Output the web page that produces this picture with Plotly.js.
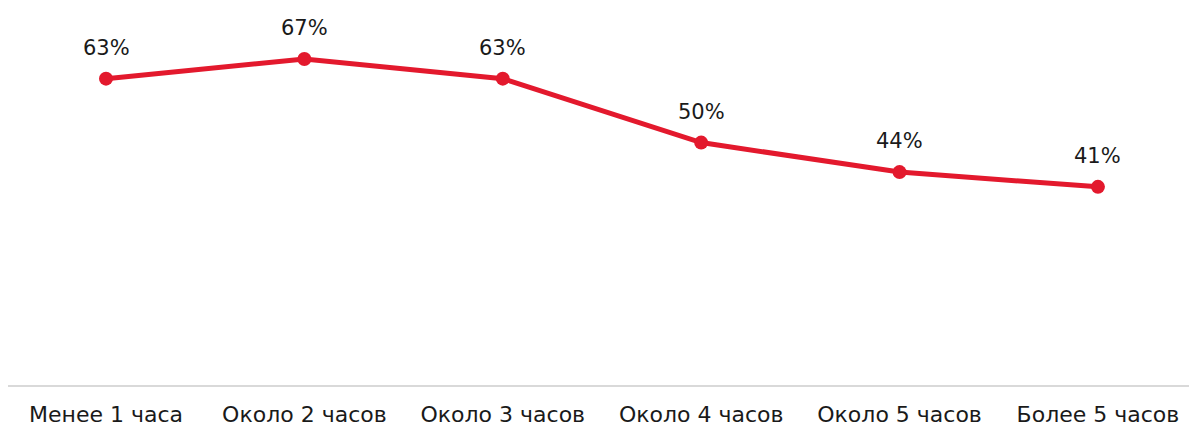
<!DOCTYPE html>
<html><head><meta charset="utf-8">
<script src="https://cdn.plot.ly/plotly-3.0.1.min.js"></script>
<style>html,body{margin:0;padding:0;background:#fff}#chart{width:1189px;height:426px}</style>
</head><body><div id="chart"></div>
<script>
const categories = ["Менее 1 часа","Около 2 часов","Около 3 часов","Около 4 часов","Около 5 часов","Более 5 часов"];
const values = [63, 67, 63, 50, 44, 41];
const labels = ["63%","67%","63%","50%","44%","41%"];

const FONT = 'DejaVu Sans, sans-serif';
const trace = {
  x: categories, y: values,
  type: 'scatter', mode: 'lines+markers',
  line: {color: '#e3192d', width: 5},
  marker: {color: '#e3192d', size: 14},
  hoverinfo: 'skip', cliponaxis: false
};
const annotations = categories.map((c, i) => ({
  x: c, y: values[i], text: labels[i], showarrow: false,
  xanchor: 'center', yanchor: 'middle', yshift: 31,
  font: {family: FONT, size: 21, color: '#1a1a1a'}
}));
const layout = {
  width: 1189, height: 426,
  margin: {l: 8, r: 0, t: 0, b: 41},
  paper_bgcolor: '#fff', plot_bgcolor: '#fff',
  showlegend: false,
  annotations: annotations,
  xaxis: {type: 'category', range: [-0.494, 5.459], showgrid: false, zeroline: false,
    showline: true, linecolor: '#d9d9d9', linewidth: 2, ticks: '',
    ticklabelstandoff: 9,
    tickfont: {family: FONT, size: 22, color: '#1a1a1a'}},
  yaxis: {range: [0.7, 79.0], visible: false, showgrid: false, zeroline: false}
};
Plotly.newPlot('chart', [trace], layout, {displayModeBar: false, staticPlot: true});
</script></body></html>
